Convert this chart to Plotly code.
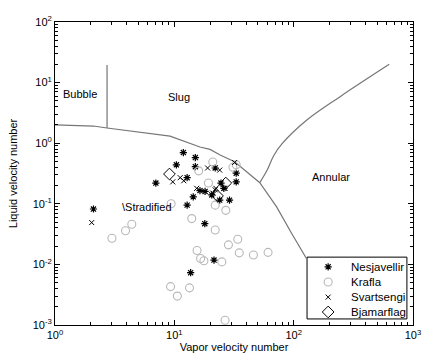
import math
import plotly.graph_objects as go

# ---- data ----
nes_x = [2.1, 7.0, 10.4, 11.9, 15.0, 15.0, 12.8, 22.0, 33.0, 24.6, 16.4, 18.1, 20.6, 29.0, 33.0, 12.8, 14.4, 18.0, 21.5, 13.7, 24.0, 26.0]
nes_y = [0.082, 0.22, 0.44, 0.70, 0.58, 0.41, 0.27, 0.39, 0.32, 0.22, 0.165, 0.16, 0.14, 0.115, 0.23, 0.095, 0.13, 0.047, 0.0118, 0.0073, 0.115, 0.18]

kra_x = [3.0, 3.9, 4.4, 9.4, 14.0, 16.0, 21.0, 19.3, 33.0, 31.0, 22.0, 27.0, 22.0, 15.5, 16.6, 17.7, 25.0, 28.4, 34.0, 35.0, 46.0, 61.0, 9.3, 10.6, 13.4, 26.6]
kra_y = [0.027, 0.036, 0.046, 0.10, 0.057, 0.35, 0.49, 0.22, 0.44, 0.40, 0.095, 0.078, 0.037, 0.017, 0.0125, 0.0115, 0.011, 0.021, 0.026, 0.0155, 0.0143, 0.0158, 0.0043, 0.003, 0.0041, 0.0012]

sva_x = [2.03, 9.7, 11.2, 12.0, 19.0, 24.0, 22.3, 26.6, 15.4, 32.0, 22.0, 21.0]
sva_y = [0.049, 0.23, 0.27, 0.24, 0.39, 0.36, 0.18, 0.18, 0.18, 0.48, 0.17, 0.15]

bja_x = [9.1, 27.0, 23.0]
bja_y = [0.31, 0.22, 0.135]

series_names = ["Nesjavellir", "Krafla", "Svartsengi", "Bjamarflag"]

# flow regime boundaries
strat_x = [1.0, 2.1, 2.73, 9.2, 16.4, 19.9, 24.2, 32.0, 52.0, 72.0, 96.0, 117.0, 128.0]
strat_y = [2.0, 1.92, 1.78, 1.31, 0.865, 0.79, 0.64, 0.495, 0.223, 0.089, 0.0326, 0.0174, 0.0125]
ann_x = [52.0, 60.0, 68.0, 80.0, 129.0, 245.0, 632.0]
ann_y = [0.223, 0.36, 0.62, 0.98, 2.41, 5.86, 20.0]
bub_x = [2.73, 2.73]
bub_y = [1.78, 19.5]

labels = ["Bubble", "Slug", "Annular", "\\Stradified"]
label_x = [1.62, 11.0, 205.0, 3.5]
label_y = [6.5, 5.8, 0.28, 0.089]
label_anchor = ["center", "center", "center", "left"]

x_ticks = [1, 10, 100, 1000]
x_ticktext = ["10<sup>0</sup>", "10<sup>1</sup>", "10<sup>2</sup>", "10<sup>3</sup>"]
y_ticks = [0.001, 0.01, 0.1, 1, 10, 100]
y_ticktext = ["10<sup>-3</sup>", "10<sup>-2</sup>", "10<sup>-1</sup>", "10<sup>0</sup>", "10<sup>1</sup>", "10<sup>2</sup>"]

FONT = "Liberation Sans, Arial, sans-serif"
LINE_C = "#767676"
KRAFLA_C = "#b8b8b8"

styles = [
    dict(symbol="asterisk-open", size=6, color="black", line=dict(color="black", width=1.2)),
    dict(symbol="circle-open", size=8, color=KRAFLA_C, line=dict(color=KRAFLA_C, width=1.1)),
    dict(symbol="x-thin-open", size=5, color="black", line=dict(color="black", width=1)),
    dict(symbol="diamond-open", size=9, color="black", line=dict(color="black", width=1)),
]

fig = go.Figure()
for bx, by, shp in [(strat_x, strat_y, "linear"), (ann_x, ann_y, "spline"), (bub_x, bub_y, "linear")]:
    fig.add_trace(go.Scatter(x=bx, y=by, mode="lines", line=dict(color=LINE_C, width=1.2, shape=shp),
                             showlegend=False, hoverinfo="skip"))

for (sx, sy), name, st in zip([(nes_x, nes_y), (kra_x, kra_y), (sva_x, sva_y), (bja_x, bja_y)],
                              series_names, styles):
    fig.add_trace(go.Scatter(x=sx, y=sy, mode="markers", name=name, marker=st, showlegend=False))

for t, lx, ly, anc in zip(labels, label_x, label_y, label_anchor):
    fig.add_annotation(x=math.log10(lx), y=math.log10(ly), xref="x", yref="y", text=t,
                       showarrow=False, xanchor=anc,
                       font=dict(size=11, color="black", family=FONT))

# ---- custom legend box (paper coordinates of the plot area) ----
leg_x0, leg_x1, leg_y0, leg_y1 = 0.704, 0.983, 0.020, 0.224
leg_rows = [0.192, 0.142, 0.092, 0.043]
leg_mark_x, leg_text_x = 0.763, 0.822
fig.add_shape(type="rect", xref="paper", yref="paper", x0=leg_x0, x1=leg_x1, y0=leg_y0, y1=leg_y1,
              line=dict(color="black", width=1), fillcolor="white", layer="below")
for name, st, ry in zip(series_names, styles, leg_rows):
    fig.add_trace(go.Scatter(x=[leg_mark_x], y=[ry], xaxis="x2", yaxis="y2", mode="markers",
                             marker=st, showlegend=False, hoverinfo="skip"))
    fig.add_annotation(x=leg_text_x, y=ry, xref="paper", yref="paper", text=name, showarrow=False,
                       xanchor="left", yanchor="middle", font=dict(size=11.5, color="black", family=FONT))

minor_vals = [m * 10 ** k for k in range(-3, 3) for m in range(2, 10)]

axis_common = dict(type="log", showgrid=False, zeroline=False, showline=True,
                   linecolor="black", linewidth=1, mirror="allticks", ticks="inside",
                   ticklen=5, tickcolor="black", tickfont=dict(size=11, family=FONT, color="black"),
                   minor=dict(ticks="inside", ticklen=3, tickcolor="black", tickvals=minor_vals))

fig.update_xaxes(range=[0, 3], tickvals=x_ticks, ticktext=x_ticktext,
                 title=dict(text="Vapor velocity number", font=dict(size=11, family=FONT, color="black"), standoff=2),
                 **axis_common)
fig.update_yaxes(range=[-3, 2], tickvals=y_ticks, ticktext=y_ticktext,
                 title=dict(text="Liquid velocity number", font=dict(size=11, family=FONT, color="black"), standoff=12),
                 **axis_common)

fig.update_layout(
    width=429, height=361,
    margin=dict(l=55, r=16, t=22, b=36, autoexpand=False),
    paper_bgcolor="white", plot_bgcolor="white",
    font=dict(family=FONT, size=11, color="black"),
    showlegend=False,
    xaxis2=dict(overlaying="x", range=[0, 1], visible=False, fixedrange=True),
    yaxis2=dict(overlaying="y", range=[0, 1], visible=False, fixedrange=True),
)

fig.write_html("out.html", config={"displayModeBar": False},
               post_script="document.body.style.margin='0px';")
